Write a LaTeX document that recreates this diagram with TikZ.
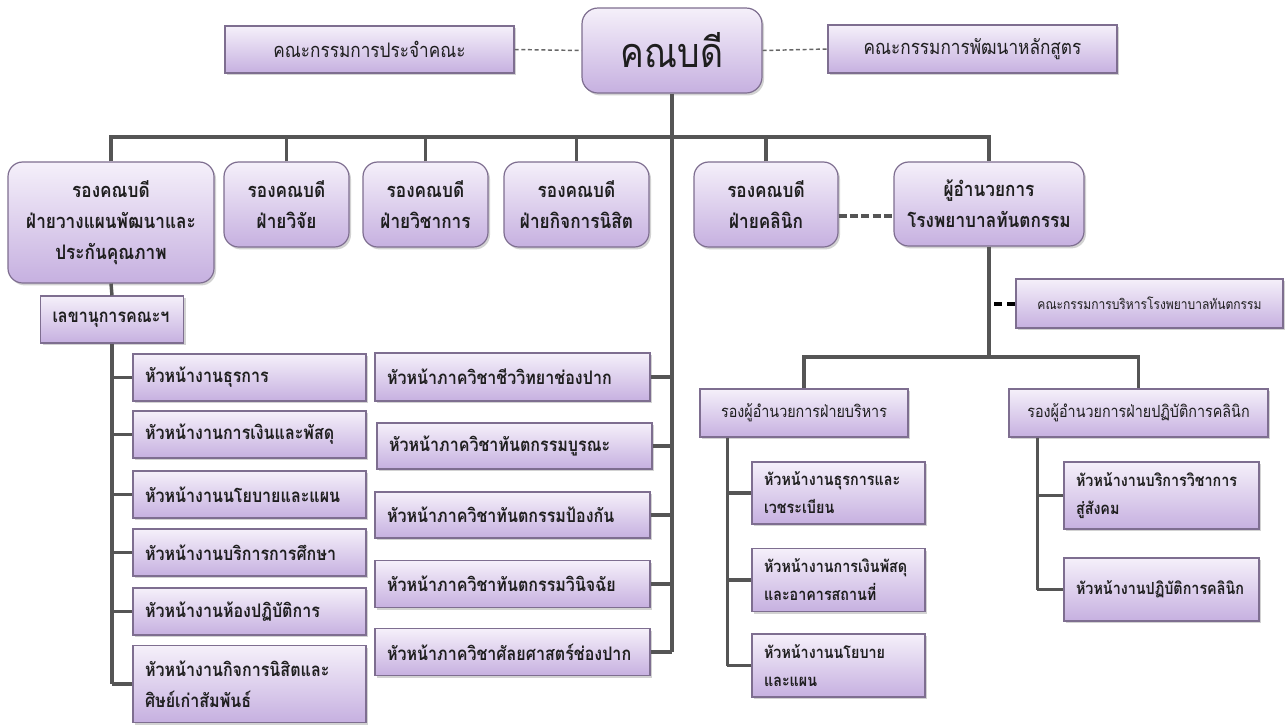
\documentclass[tikz,border=0pt]{standalone}
\usepackage{fontspec}
\newfontfamily\thai[Script=Thai]{Loma}
\newfontfamily\thaiN[Script=Thai, FakeStretch=0.86]{Loma}
\usetikzlibrary{shadows,calc}
\definecolor{boxtop}{HTML}{F5F0FA}
\definecolor{boxbot}{HTML}{C6B0E0}
\definecolor{boxline}{HTML}{7E6E90}
\definecolor{conncol}{HTML}{555555}
\definecolor{txtcol}{HTML}{1E1E1E}
\newcommand{\fDean}{\thaiN\fontsize{31}{34}\selectfont}
\newcommand{\fComm}{\thaiN\fontsize{15}{18}\selectfont\color{black!80}}
\newcommand{\fVp}{\thaiN\fontsize{15}{23.5}\selectfont\bfseries}
\newcommand{\fHead}{\thaiN\fontsize{14}{23}\selectfont\bfseries}
\newcommand{\fMid}{\thaiN\fontsize{12.5}{16}\selectfont}
\newcommand{\fSub}{\thaiN\fontsize{12.5}{21}\selectfont\bfseries}
\newcommand{\fHosp}{\thaiN\fontsize{10.5}{12}\selectfont\color{black!80}}
\begin{document}
\begin{tikzpicture}[x=0.75pt,y=-0.75pt,
  base/.style={draw=boxline, line width=0.9pt, top color=boxtop, bottom color=boxbot,
    drop shadow={opacity=0.35, shadow xshift=1.5pt, shadow yshift=-1.8pt},
    inner sep=0pt, text=txtcol},
  rbox/.style={base, rounded corners=11pt, align=center, font=\fVp},
  sq/.style={base, rounded corners=0pt},
  wh/.style 2 args={minimum width=#1*0.75pt, minimum height=#2*0.75pt},
  lft/.style={inner xsep=9pt, text width=#1, align=left},
  conn/.style={draw=conncol, line width=2.6pt},
  thindash/.style={draw=black!60, line width=1.1pt, dash pattern=on 3pt off 2pt},
  thickdash/.style={draw=conncol, line width=3pt, dash pattern=on 6pt off 2.5pt},
  blackdash/.style={draw=black, line width=3pt, dash pattern=on 6pt off 4pt},
]
\fill[white] (0,0) rectangle (1287,726);
\useasboundingbox (0,0) rectangle (1287,726);

% top level
\node[rbox, wh={180}{85}, font=\fDean, rounded corners=12pt] (dean) at (672,50.5) {คณบดี};
\node[sq, wh={289}{47}, font=\fComm] (prc) at (369.5,49.5) {คณะกรรมการประจำคณะ};
\node[sq, wh={289}{48}, font=\fComm] (dev) at (972.5,49) {คณะกรรมการพัฒนาหลักสูตร};

% deputy deans
\node[rbox, wh={206}{121}] (vp1) at (111,222.5) {รองคณบดี\\ฝ่ายวางแผนพัฒนาและ\\ประกันคุณภาพ};
\node[rbox, wh={125}{85}] (vp2) at (286.5,204.5) {รองคณบดี\\ฝ่ายวิจัย};
\node[rbox, wh={125}{85}] (vp3) at (425.5,204.5) {รองคณบดี\\ฝ่ายวิชาการ};
\node[rbox, wh={145}{85}] (vp4) at (576.5,204.5) {รองคณบดี\\ฝ่ายกิจการนิสิต};
\node[rbox, wh={144}{85}] (vp5) at (766,204.5) {รองคณบดี\\ฝ่ายคลินิก};
\node[rbox, wh={190}{84}] (dir) at (989,204) {ผู้อำนวยการ\\โรงพยาบาลทันตกรรม};
\node[sq, wh={267}{49}, font=\fHosp] (hosp) at (1149.5,303.5) {คณะกรรมการบริหารโรงพยาบาลทันตกรรม};

% left column
\node[sq, wh={143}{47}, lft=89.25pt, font=\fHead] (secr) at (112,319.5) {เลขานุการคณะฯ};
\node[sq, wh={233}{47}, lft=156.75pt, font=\fHead] (L1) at (249.5,377.5) {หัวหน้างานธุรการ};
\node[sq, wh={233}{47}, lft=156.75pt, font=\fHead] (L2) at (249.5,434.5) {หัวหน้างานการเงินและพัสดุ};
\node[sq, wh={233}{47}, lft=156.75pt, font=\fHead] (L3) at (249.5,494.5) {หัวหน้างานนโยบายและแผน};
\node[sq, wh={233}{47}, lft=156.75pt, font=\fHead] (L4) at (249.5,552.5) {หัวหน้างานบริการการศึกษา};
\node[sq, wh={233}{47}, lft=156.75pt, font=\fHead] (L5) at (249.5,611.5) {หัวหน้างานห้องปฏิบัติการ};
\node[sq, wh={233}{77}, lft=156.75pt, font=\fHead] (L6) at (249.5,684) {หัวหน้างานกิจการนิสิตและ\\ศิษย์เก่าสัมพันธ์};

% departments
\node[sq, wh={275}{48}, lft=188.25pt, font=\fHead] (D1) at (512.5,377) {หัวหน้าภาควิชาชีววิทยาช่องปาก};
\node[sq, wh={275}{46}, lft=188.25pt, font=\fHead] (D2) at (514.5,446) {หัวหน้าภาควิชาทันตกรรมบูรณะ};
\node[sq, wh={275}{46}, lft=188.25pt, font=\fHead] (D3) at (512.5,515) {หัวหน้าภาควิชาทันตกรรมป้องกัน};
\node[sq, wh={275}{47}, lft=188.25pt, font=\fHead] (D4) at (512.5,584) {หัวหน้าภาควิชาทันตกรรมวินิจฉัย};
\node[sq, wh={275}{47}, lft=188.25pt, font=\fHead] (D5) at (512.5,652) {หัวหน้าภาควิชาศัลยศาสตร์ช่องปาก};

% hospital side
\node[sq, wh={208}{48}, font=\fMid] (dadm) at (804,413) {รองผู้อำนวยการฝ่ายบริหาร};
\node[sq, wh={259}{48}, font=\fMid] (dcli) at (1138.5,413) {รองผู้อำนวยการฝ่ายปฏิบัติการคลินิก};
\node[sq, wh={173}{62}, lft=111.75pt, font=\fSub] (S1) at (838.5,493) {หัวหน้างานธุรการและ\\เวชระเบียน};
\node[sq, wh={173}{63}, lft=111.75pt, font=\fSub] (S2) at (838.5,580) {หัวหน้างานการเงินพัสดุ\\และอาคารสถานที่};
\node[sq, wh={173}{63}, lft=111.75pt, font=\fSub] (S3) at (838.5,665.5) {หัวหน้างานนโยบาย\\และแผน};
\node[sq, wh={195}{67}, lft=128.25pt, font=\fSub] (R1) at (1161.5,495.5) {หัวหน้างานบริการวิชาการ\\สู่สังคม};
\node[sq, wh={195}{63}, lft=128.25pt, font=\fSub] (R2) at (1161.5,589.5) {หัวหน้างานปฏิบัติการคลินิก};

% connectors
\coordinate (bus) at (672,137);
\coordinate (bus2) at (990,357);
\draw[thindash] (prc.east) -- (dean.west);
\draw[thindash] (dean.east) -- (dev.west);
\draw[conn] (vp1.north) -- (vp1.north |- bus) -- (dir.north |- bus) -- (dir.north);
\draw[conn] (vp2.north) -- (vp2.north |- bus);
\draw[conn] (vp3.north) -- (vp3.north |- bus);
\draw[conn] (vp4.north) -- (vp4.north |- bus);
\draw[conn] (vp5.north) -- (vp5.north |- bus);
\draw[conn] (dean.south) -- (dean.south |- D5.east);
\foreach \d in {D1,D2,D3,D4,D5} \draw[conn] (\d.east) -- (\d.east -| dean.south);
\draw[conn] (vp1.south) -- (secr.north);
\draw[conn] (secr.south) -- (secr.south |- L6.west);
\foreach \l in {L1,L2,L3,L4,L5,L6} \draw[conn] (\l.west) -- (\l.west -| secr.south);
\coordinate (k1) at ($(vp5.east)+(0,11)$);
\draw[thickdash] (k1) -- (k1 -| dir.west);
\draw[conn] (dir.south) -- (dir.south |- bus2);
\draw[blackdash] (hosp.west) -- (hosp.west -| dir.south);
\draw[conn] (dadm.north) |- (bus2) -| (dcli.north);
\coordinate (ta) at ($(dadm.south west)+(28,0)$);
\draw[conn] (ta) -- (ta |- S3.west);
\foreach \s in {S1,S2,S3} \draw[conn] (\s.west) -- (\s.west -| ta);
\coordinate (tb) at ($(dcli.south west)+(29,0)$);
\draw[conn] (tb) -- (tb |- R2.west);
\foreach \r in {R1,R2} \draw[conn] (\r.west) -- (\r.west -| tb);
\end{tikzpicture}
\end{document}
